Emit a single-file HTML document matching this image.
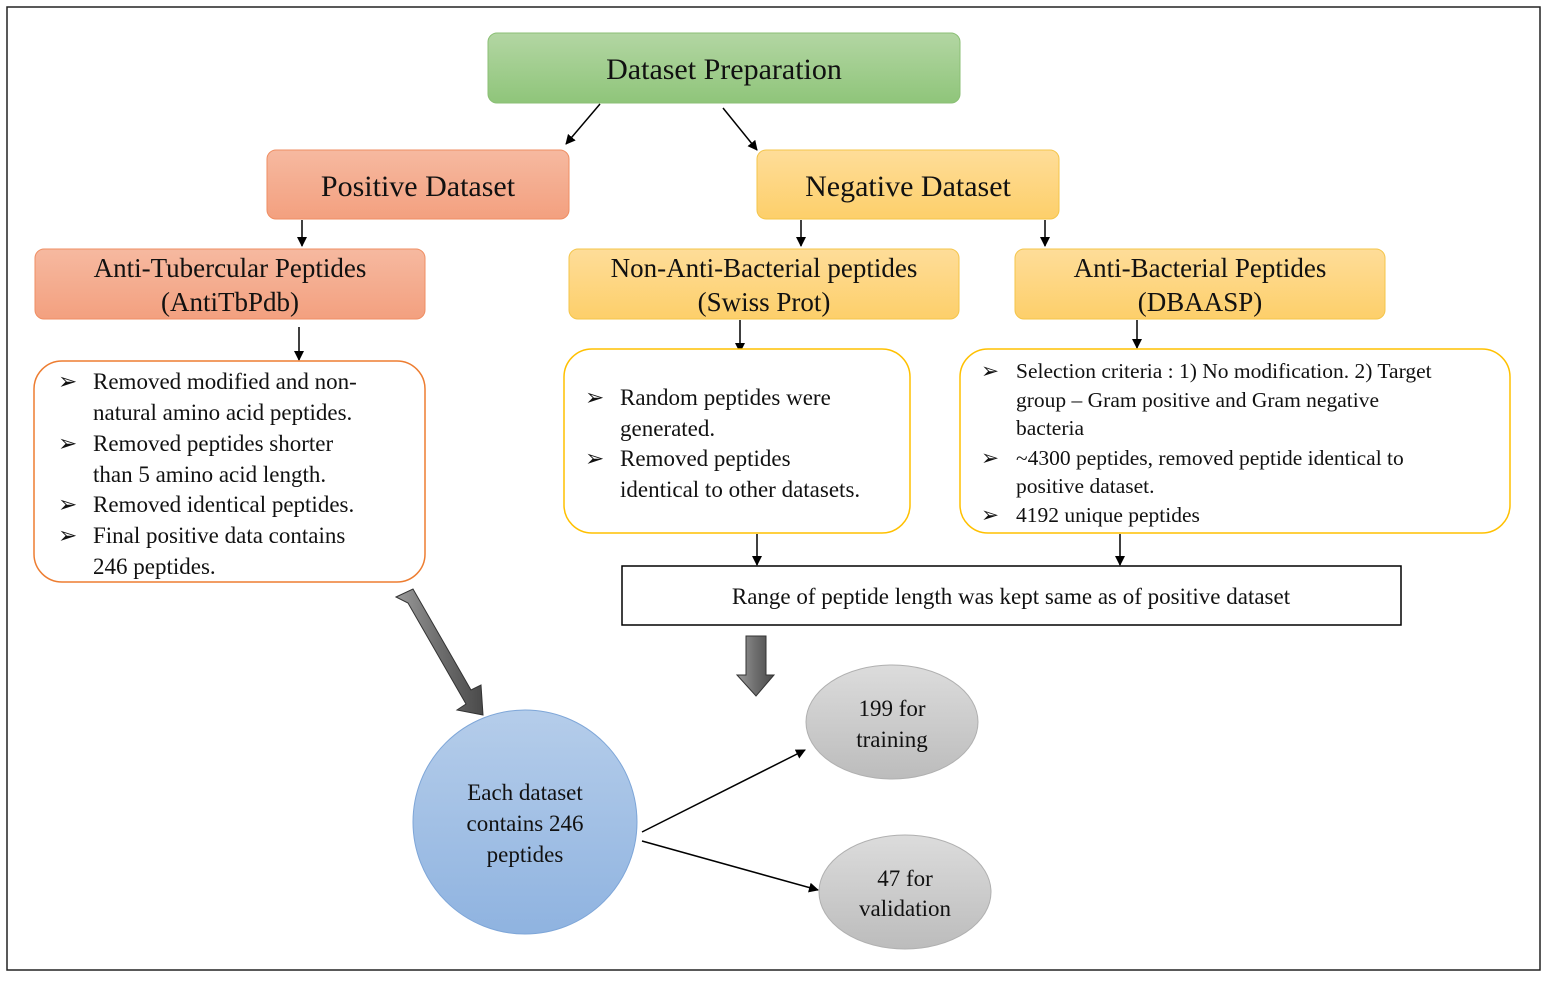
<!DOCTYPE html>
<html><head><style>
html,body{margin:0;padding:0;background:#fff}
svg text{font-family:"Liberation Serif",serif;fill:#111}
</style></head><body>
<svg width="1547" height="977" xmlns="http://www.w3.org/2000/svg">
<defs>
<linearGradient id="g" x1="0" y1="0" x2="0" y2="1"><stop offset="0" stop-color="#b3d6a3"/><stop offset="1" stop-color="#8fc57a"/></linearGradient>
<linearGradient id="r" x1="0" y1="0" x2="0" y2="1"><stop offset="0" stop-color="#f6b9a0"/><stop offset="1" stop-color="#f3a07f"/></linearGradient>
<linearGradient id="y" x1="0" y1="0" x2="0" y2="1"><stop offset="0" stop-color="#fedd99"/><stop offset="1" stop-color="#fdcf6a"/></linearGradient>
<linearGradient id="b" x1="0" y1="0" x2="0" y2="1"><stop offset="0" stop-color="#b5cdea"/><stop offset="1" stop-color="#8fb3e0"/></linearGradient>
<linearGradient id="gr" x1="0" y1="0" x2="0" y2="1"><stop offset="0" stop-color="#dcdcdc"/><stop offset="1" stop-color="#bcbcbc"/></linearGradient>
<linearGradient id="ar" x1="0" y1="0" x2="1" y2="0"><stop offset="0" stop-color="#9a9a9a"/><stop offset="0.5" stop-color="#6e6e6e"/><stop offset="1" stop-color="#4a4a4a"/></linearGradient>
<marker id="m" markerWidth="10" markerHeight="10" refX="9" refY="5" orient="auto" markerUnits="userSpaceOnUse"><path d="M0,0 L10,5 L0,10 z" fill="#000"/></marker>
</defs>
<rect x="7" y="7" width="1533" height="963" fill="none" stroke="#222" stroke-width="1.5"/>
<rect x="488" y="33" width="472" height="70" rx="9" fill="url(#g)" stroke="#8bbf75"/>
<text x="724" y="79" font-size="30" text-anchor="middle">Dataset Preparation</text>
<line x1="600" y1="104" x2="566" y2="144" stroke="#000" stroke-width="1.5" marker-end="url(#m)"/>
<line x1="723" y1="108" x2="757" y2="150" stroke="#000" stroke-width="1.5" marker-end="url(#m)"/>
<rect x="267" y="150" width="302" height="69" rx="9" fill="url(#r)" stroke="#ef8e63"/>
<text x="418" y="196" font-size="30" text-anchor="middle">Positive Dataset</text>
<rect x="757" y="150" width="302" height="69" rx="9" fill="url(#y)" stroke="#f4c54a"/>
<text x="908" y="196" font-size="30" text-anchor="middle">Negative Dataset</text>
<g stroke="#000" stroke-width="1.5">
<line x1="302" y1="220" x2="302" y2="246" marker-end="url(#m)"/>
<line x1="801" y1="220" x2="801" y2="246" marker-end="url(#m)"/>
<line x1="1045" y1="220" x2="1045" y2="246" marker-end="url(#m)"/>
<line x1="299" y1="327" x2="299" y2="360" marker-end="url(#m)"/>
<line x1="740" y1="320" x2="740" y2="352" marker-end="url(#m)"/>
<line x1="1137" y1="320" x2="1137" y2="348" marker-end="url(#m)"/>
<line x1="757" y1="534" x2="757" y2="565" marker-end="url(#m)"/>
<line x1="1120" y1="534" x2="1120" y2="565" marker-end="url(#m)"/>
<line x1="642" y1="832" x2="805" y2="750" marker-end="url(#m)"/>
<line x1="642" y1="841" x2="818" y2="890" marker-end="url(#m)"/>
</g>
<rect x="35" y="249" width="390" height="70" rx="9" fill="url(#r)" stroke="#ef8e63"/>
<text x="230" y="277" font-size="27" text-anchor="middle">Anti-Tubercular Peptides</text>
<text x="230" y="311" font-size="27" text-anchor="middle">(AntiTbPdb)</text>
<rect x="569" y="249" width="390" height="70" rx="9" fill="url(#y)" stroke="#f4c54a"/>
<text x="764" y="277" font-size="27" text-anchor="middle">Non-Anti-Bacterial peptides</text>
<text x="764" y="311" font-size="27" text-anchor="middle">(Swiss Prot)</text>
<rect x="1015" y="249" width="370" height="70" rx="9" fill="url(#y)" stroke="#f4c54a"/>
<text x="1200" y="277" font-size="27" text-anchor="middle">Anti-Bacterial Peptides</text>
<text x="1200" y="311" font-size="27" text-anchor="middle">(DBAASP)</text>
<rect x="34" y="361" width="391" height="221" rx="28" fill="#fff" stroke="#ed7d31" stroke-width="1.5"/>
<g font-size="23">
<text x="58" y="389">➢</text><text x="93" y="389">Removed modified and non-</text>
<text x="93" y="420">natural amino acid peptides.</text>
<text x="58" y="451">➢</text><text x="93" y="451">Removed peptides shorter</text>
<text x="93" y="482">than 5 amino acid length.</text>
<text x="58" y="512">➢</text><text x="93" y="512">Removed identical peptides.</text>
<text x="58" y="543">➢</text><text x="93" y="543">Final positive data contains</text>
<text x="93" y="574">246 peptides.</text>
</g>
<rect x="564" y="349" width="346" height="184" rx="28" fill="#fff" stroke="#ffc000" stroke-width="1.5"/>
<g font-size="23">
<text x="585" y="405">➢</text><text x="620" y="405">Random peptides were</text>
<text x="620" y="436">generated.</text>
<text x="585" y="466">➢</text><text x="620" y="466">Removed peptides</text>
<text x="620" y="497">identical to other datasets.</text>
</g>
<rect x="960" y="349" width="550" height="184" rx="28" fill="#fff" stroke="#ffc000" stroke-width="1.5"/>
<g font-size="21.5">
<text x="981" y="378">➢</text><text x="1016" y="378">Selection criteria : 1) No modification. 2) Target</text>
<text x="1016" y="407">group – Gram positive and Gram negative</text>
<text x="1016" y="435">bacteria</text>
<text x="981" y="465">➢</text><text x="1016" y="465">~4300 peptides, removed peptide identical to</text>
<text x="1016" y="493">positive dataset.</text>
<text x="981" y="522">➢</text><text x="1016" y="522">4192 unique peptides</text>
</g>
<rect x="622" y="566" width="779" height="59" fill="#fff" stroke="#000" stroke-width="1.5"/>
<text x="1011" y="604" font-size="23" text-anchor="middle">Range of peptide length was kept same as of positive dataset</text>
<polygon points="396,597 413,589 471,690 481,685 483,715 457,710 466,704 408,603" fill="url(#ar)" stroke="#333"/>
<polygon points="746,636 766,636 766,675 774,675 756,696 737,675 746,675" fill="url(#ar)" stroke="#333"/>
<circle cx="525" cy="822" r="112" fill="url(#b)" stroke="#7ea6d8"/>
<g font-size="23" text-anchor="middle">
<text x="525" y="800">Each dataset</text>
<text x="525" y="831">contains 246</text>
<text x="525" y="862">peptides</text>
</g>
<ellipse cx="892" cy="722" rx="86" ry="57" fill="url(#gr)" stroke="#b0b0b0"/>
<text x="892" y="716" font-size="23" text-anchor="middle">199 for</text>
<text x="892" y="747" font-size="23" text-anchor="middle">training</text>
<ellipse cx="905" cy="892" rx="86" ry="57" fill="url(#gr)" stroke="#b0b0b0"/>
<text x="905" y="886" font-size="23" text-anchor="middle">47 for</text>
<text x="905" y="916" font-size="23" text-anchor="middle">validation</text>
</svg>
</body></html>
